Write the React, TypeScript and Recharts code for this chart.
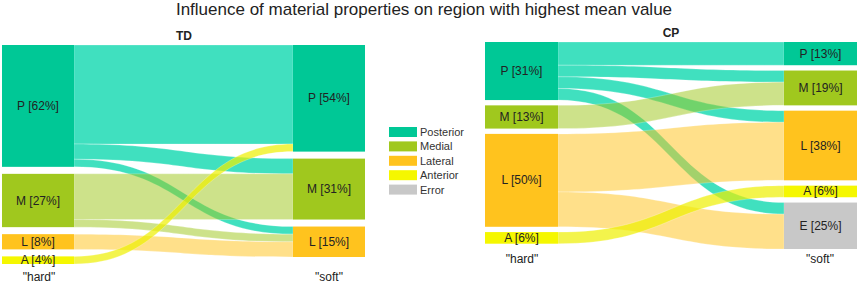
import React from "react"
import { Sankey } from "recharts"

// region codes, legend names and colours
const regionCodes = ["P", "M", "L", "A", "E"]
const regionNames = ["Posterior", "Medial", "Lateral", "Anterior", "Error"]
const nodeColors = ["#00c896", "#a0c81e", "#ffc31e", "#f5f700", "#c8c8c8"]
const linkColors = [
    "rgba(0,214,170,0.75)",
    "rgba(160,200,30,0.52)",
    "rgba(255,195,30,0.52)",
    "rgba(238,240,0,0.7)",
    "rgba(200,200,200,0.5)",
]

// TD panel (26 samples)
const tdHard = ["P", "M", "L", "A"]
const tdSoft = ["P", "M", "L"]
const tdLinkFrom = ["P", "P", "P", "M", "M", "L", "A"]
const tdLinkTo = ["P", "M", "L", "M", "L", "L", "P"]
const tdLinkCount = [13, 2, 1, 6, 1, 2, 1]

// CP panel (16 samples)
const cpHard = ["P", "M", "L", "A"]
const cpSoft = ["P", "M", "L", "A", "E"]
const cpLinkFrom = ["P", "P", "P", "P", "M", "L", "L", "A"]
const cpLinkTo = ["P", "M", "L", "E", "M", "L", "E", "A"]
const cpLinkCount = [2, 1, 1, 1, 2, 5, 3, 1]

const FONT = '"Liberation Sans", Arial, Helvetica, sans-serif'

function buildData(hard: string[], soft: string[], from: string[], to: string[], counts: number[]) {
    const nodes = [
        ...hard.map(code => ({ name: code, tint: nodeColors[regionCodes.indexOf(code)] })),
        ...soft.map(code => ({ name: code, tint: nodeColors[regionCodes.indexOf(code)] })),
    ]
    const links = counts.map((value, i) => ({
        source: hard.indexOf(from[i]),
        target: hard.length + soft.indexOf(to[i]),
        value,
        tint: linkColors[regionCodes.indexOf(from[i])],
    }))
    return { nodes, links }
}

function makeNode(total: number) {
    return (props: any) => {
        const { x, y, width, height, payload } = props
        const pct = Math.round((payload.value / total) * 100)
        return (
            <g>
                <rect x={x} y={y} width={width} height={height} fill={payload.tint} />
                <text
                    x={x + width / 2}
                    y={y + height / 2}
                    textAnchor="middle"
                    dominantBaseline="central"
                    fontSize={12}
                    fontFamily={FONT}
                    fill="#222"
                >
                    {`${payload.name} [${pct}%]`}
                </text>
            </g>
        )
    }
}

// filled band instead of a thick stroke, so the vertical thickness stays constant
const LinkBand = (props: any) => {
    const { sourceX, targetX, sourceY, targetY, sourceControlX, targetControlX, linkWidth, payload } = props
    const h = linkWidth / 2
    const d =
        `M${sourceX},${sourceY - h} C${sourceControlX},${sourceY - h} ${targetControlX},${targetY - h} ${targetX},${targetY - h}` +
        ` L${targetX},${targetY + h} C${targetControlX},${targetY + h} ${sourceControlX},${sourceY + h} ${sourceX},${sourceY + h} Z`
    return <path d={d} fill={payload.tint} stroke="#fff" strokeOpacity={0.6} strokeWidth={0.4} />
}

const sum = (a: number[]) => a.reduce((s, v) => s + v, 0)

export default function App() {
    const tdData = buildData(tdHard, tdSoft, tdLinkFrom, tdLinkTo, tdLinkCount)
    const cpData = buildData(cpHard, cpSoft, cpLinkFrom, cpLinkTo, cpLinkCount)

    return (
        <div style={{ position: "absolute", left: 0, top: 0, width: 858, height: 284, background: "#fff", overflow: "hidden" }}>
            <div style={{ position: "absolute", left: 0, top: 0 }}>
                <Sankey
                    width={430}
                    height={284}
                    data={tdData}
                    nodeWidth={72}
                    nodePadding={7}
                    iterations={0}
                    margin={{ top: 45, right: 65, bottom: 20, left: 2 }}
                    node={makeNode(sum(tdLinkCount))}
                    link={LinkBand}
                />
            </div>
            <div style={{ position: "absolute", left: 430, top: 0 }}>
                <Sankey
                    width={428}
                    height={284}
                    data={cpData}
                    nodeWidth={73}
                    nodePadding={5.3}
                    iterations={0}
                    margin={{ top: 42, right: 1, bottom: 35, left: 55 }}
                    node={makeNode(sum(cpLinkCount))}
                    link={LinkBand}
                />
            </div>
            <svg
                width={858}
                height={284}
                style={{ position: "absolute", left: 0, top: 0, pointerEvents: "none" }}
                fontFamily={FONT}
            >
                <text x={424} y={15} textAnchor="middle" fontSize={17} fill="#222">
                    Influence of material properties on region with highest mean value
                </text>
                <text x={184} y={40} textAnchor="middle" fontSize={12} fontWeight="bold" fill="#222">TD</text>
                <text x={671} y={37} textAnchor="middle" fontSize={12} fontWeight="bold" fill="#222">CP</text>

                <text x={39} y={281} textAnchor="middle" fontSize={12} fill="#222">"hard"</text>
                <text x={329} y={281} textAnchor="middle" fontSize={12} fill="#222">"soft"</text>
                <text x={522} y={263} textAnchor="middle" fontSize={12} fill="#222">"hard"</text>
                <text x={820} y={263} textAnchor="middle" fontSize={12} fill="#222">"soft"</text>

                {regionNames.map((name, i) => (
                    <g key={name}>
                        <rect x={389} y={127 + i * 14.4} width={28} height={10} fill={nodeColors[i]} />
                        <text x={420} y={136 + i * 14.4} fontSize={11} fill="#333">{name}</text>
                    </g>
                ))}
            </svg>
        </div>
    )
}
